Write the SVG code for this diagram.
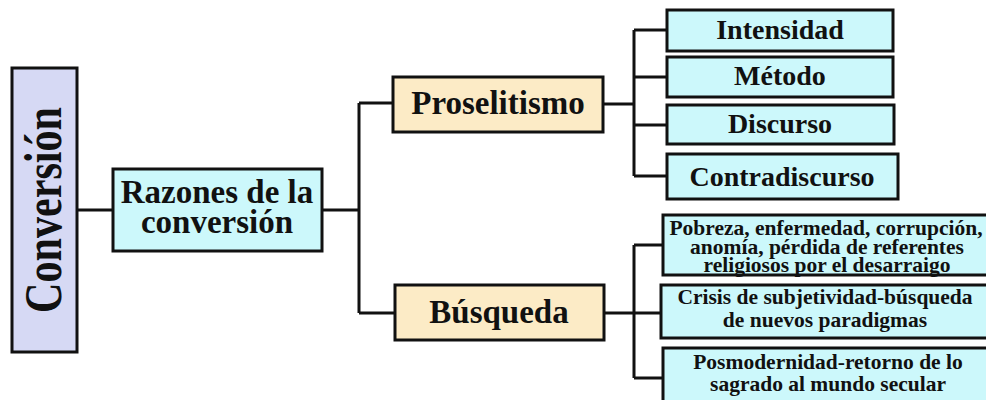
<svg xmlns="http://www.w3.org/2000/svg" width="986" height="400" viewBox="0 0 986 400">
<style>
.box{stroke:#111;stroke-width:3}
.lav{fill:#d6d9f4}
.cyan{fill:#ccf8fb}
.tan{fill:#fcebc6}
.t{font-family:"Liberation Serif","Times New Roman",serif;font-weight:bold;fill:#111;text-anchor:middle}
.s{font-size:21.5px}
.conn{stroke:#111;stroke-width:3;fill:none}
</style>
<rect width="986" height="400" fill="#fff"/>
<g id="connectors">
<path class="conn" d="M77 210H113M322 210H359M359 103V313M359 103H393M359 313H395"/>
<path class="conn" d="M603 104H634M634 30V176M634 30H667M634 77H667M634 125H667M634 176H667"/>
<path class="conn" d="M604 313H634M634 245V378M634 245H662M634 313H661M634 378H663"/>
</g>
<g id="conversion">
<rect class="box lav" x="12" y="68" width="65" height="284"/>
<text class="t" font-size="52" transform="translate(61,210) rotate(-90)" textLength="206" lengthAdjust="spacingAndGlyphs">Conversión</text>
</g>
<g id="razones">
<rect class="box cyan" x="113" y="169" width="209" height="82"/>
<text class="t" font-size="33" x="217" y="203">Razones de la</text>
<text class="t" font-size="33" x="217" y="233">conversión</text>
</g>
<g id="proselitismo">
<rect class="box tan" x="393" y="77" width="210" height="55"/>
<text class="t" font-size="33" x="498" y="114">Proselitismo</text>
</g>
<g id="busqueda">
<rect class="box tan" x="395" y="285" width="209" height="55"/>
<text class="t" font-size="33" x="499" y="323">Búsqueda</text>
</g>
<g id="intensidad">
<rect class="box cyan" x="667" y="10" width="226" height="41"/>
<text class="t" font-size="28" x="780" y="39">Intensidad</text>
</g>
<g id="metodo">
<rect class="box cyan" x="667" y="57" width="226" height="40"/>
<text class="t" font-size="28" x="780" y="85">Método</text>
</g>
<g id="discurso">
<rect class="box cyan" x="667" y="105" width="227" height="39"/>
<text class="t" font-size="28" x="780" y="133">Discurso</text>
</g>
<g id="contradiscurso">
<rect class="box cyan" x="667" y="154" width="231" height="45"/>
<text class="t" font-size="28" x="782" y="186">Contradiscurso</text>
</g>
<g id="pobreza">
<rect class="box cyan" x="663" y="215" width="330" height="60"/>
<text class="t s" x="826" y="235">Pobreza, enfermedad, corrupción,</text>
<text class="t s" x="827" y="254">anomía, pérdida de referentes</text>
<text class="t s" x="827" y="272">religiosos por el desarraigo</text>
</g>
<g id="crisis">
<rect class="box cyan" x="661" y="285" width="332" height="53"/>
<text class="t s" x="825" y="304">Crisis de subjetividad-búsqueda</text>
<text class="t s" x="825" y="327">de nuevos paradigmas</text>
</g>
<g id="posmodernidad">
<rect class="box cyan" x="663" y="348" width="330" height="60"/>
<text class="t s" x="828" y="369">Posmodernidad-retorno de lo</text>
<text class="t s" x="828" y="391">sagrado al mundo secular</text>
</g>
</svg>
